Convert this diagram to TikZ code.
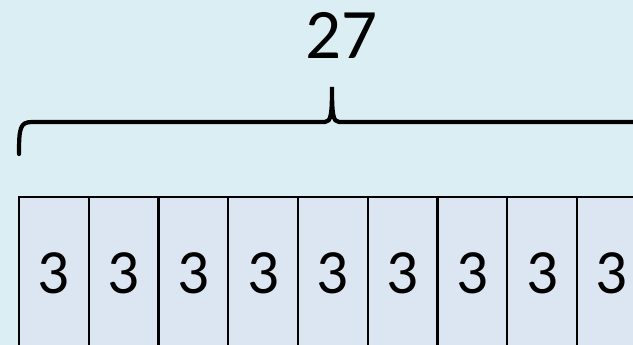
\documentclass[tikz,border=0pt]{standalone}
\usepackage{fontspec}
\setmainfont{Carlito}
\usepackage{tikz}
\definecolor{backblue}{HTML}{DAEEF3}
\definecolor{cellblue}{HTML}{DCE6F2}

\begin{document}
\begin{tikzpicture}[x=1pt,y=-1pt,
    cell/.style={draw=black,line width=2.2pt,fill=cellblue,minimum width=69.75pt,minimum height=152pt,inner sep=0pt,font=\fontsize{63}{63}\selectfont},
    brace/.style={line width=4.2pt,line cap=round}]
    \useasboundingbox[fill=backblue] (0,0) rectangle (633,345);
    \clip (0,0) rectangle (633,345);
    \node[font=\fontsize{71}{71}\selectfont] (total) at (341,35) {27};
    % row of cells
    \foreach \i in {0,...,8}
        \node[cell] (c\i) at (53.875+69.75*\i,273) {3};
    % brace
    \coordinate (bl) at (19,154);
    \coordinate (tip) at (332,87);
    \coordinate (br) at (650,122);
    \draw[brace] (bl) .. controls (19,128) and (20,122) .. (32,122) -- (325,122)
        .. controls (331,122) and (332,114) .. (tip)
        .. controls (332,114) and (333,122) .. (339,122) -- (br);
\end{tikzpicture}
\end{document}
